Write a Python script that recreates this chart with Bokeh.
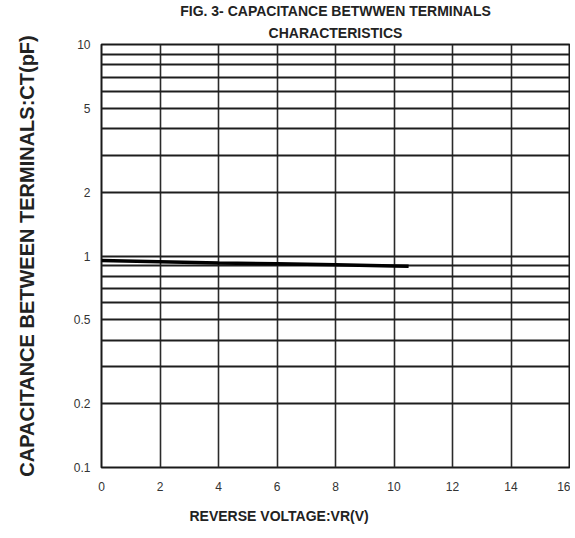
from bokeh.plotting import figure
from bokeh.models import FixedTicker, Title, ColumnDataSource
from bokeh.embed import file_html
from bokeh.resources import INLINE

# ---- data ----
voltage = [0, 2, 4, 6, 8, 10, 10.5]
capacitance = [0.952, 0.940, 0.927, 0.918, 0.909, 0.897, 0.894]

x_ticks = [0, 2, 4, 6, 8, 10, 12, 14, 16]
y_label_ticks = [0.1, 0.2, 0.5, 1, 2, 5, 10]
y_grid_values = [0.1, 0.2, 0.3, 0.4, 0.5, 0.6, 0.7, 0.8, 0.9,
                 1, 2, 3, 4, 5, 6, 7, 8, 9, 10]
y_tick_text = {0.1: "0.1", 0.2: "0.2", 0.5: "0.5", 1: "1", 2: "2", 5: "5", 10: "10"}

title_line1 = "FIG. 3- CAPACITANCE BETWWEN TERMINALS"
title_line2 = "CHARACTERISTICS"
x_title = "REVERSE VOLTAGE:VR(V)"
y_title = "CAPACITANCE BETWEEN TERMINALS:CT(pF)"

FONT = "Liberation Sans"

p = figure(width=570, height=535, y_axis_type="log",
           x_range=(0, 16), y_range=(0.1, 10),
           output_backend="svg", toolbar_location=None,
           min_border_left=101, min_border_right=1,
           min_border_top=43, min_border_bottom=68)

p.outline_line_color = "#1a1a1a"
p.outline_line_width = 2

# titles (outer line first, inner line added next to the frame)
p.title.text = title_line1
p.title.align = "center"
p.title.text_font = FONT
p.title.text_font_style = "bold"
p.title.text_font_size = "14px"
p.title.text_color = "#222222"
p.title.standoff = 0
p.add_layout(Title(text=title_line2, align="center", text_font=FONT,
                   text_font_style="bold", text_font_size="14px",
                   text_color="#222222", standoff=8), "above")

# axes
for ax in (p.xaxis[0], p.yaxis[0]):
    ax.axis_line_color = None
    ax.major_tick_line_color = None
    ax.minor_tick_line_color = None
    ax.major_label_text_font = FONT
    ax.major_label_text_font_size = "12px"
    ax.major_label_text_color = "#333333"

p.xaxis.ticker = FixedTicker(ticks=x_ticks)
p.xaxis.major_label_standoff = 8

p.yaxis.ticker = FixedTicker(ticks=y_label_ticks)
p.yaxis.major_label_overrides = y_tick_text
p.yaxis.major_label_standoff = 5
p.yaxis.axis_label = y_title
p.yaxis.axis_label_text_font = FONT
p.yaxis.axis_label_text_font_style = "bold"
p.yaxis.axis_label_text_font_size = "20px"
p.yaxis.axis_label_text_color = "#222222"
p.yaxis.axis_label_standoff = 33

# x-axis title placed below, left-aligned with an offset like the reference
p.add_layout(Title(text=x_title, align="left", offset=88, text_font=FONT,
                   text_font_style="bold", text_font_size="14px",
                   text_color="#222222", standoff=24), "below")

# grid
p.xgrid.ticker = FixedTicker(ticks=x_ticks)
p.xgrid.grid_line_color = "#2a2a2a"
p.xgrid.grid_line_width = 1.6
p.ygrid.ticker = FixedTicker(ticks=y_grid_values)
p.ygrid.grid_line_color = "#1e1e1e"
p.ygrid.grid_line_width = 2

# curve
src = ColumnDataSource(data=dict(v=voltage, c=capacitance))
p.line("v", "c", source=src, line_color="black", line_width=3.5)

open("out.html", "w").write(file_html(p, INLINE))
